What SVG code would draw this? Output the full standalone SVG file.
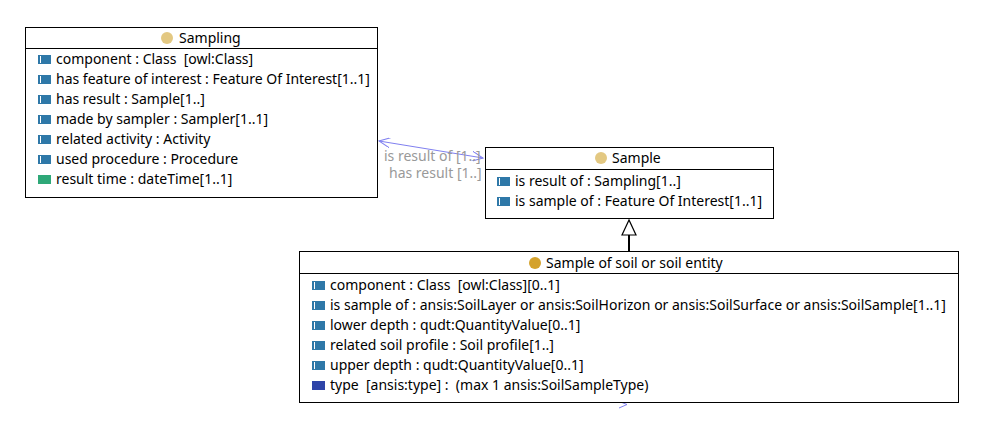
<svg xmlns="http://www.w3.org/2000/svg" width="1003" height="439" viewBox="0 0 1003 439">
<defs>
<style>
.box{fill:#fff;stroke:#000;stroke-width:1}
.t{font-family:"Noto Sans","Open Sans",sans-serif;font-size:14px;fill:#000;white-space:pre}
.lbl{font-family:"Noto Sans","Open Sans",sans-serif;font-size:14px;fill:#999}
.ic{fill:#2e78a8}
.icg{fill:#2ea878}
.icd{fill:#2e44a8}
.strip{stroke:#fff;stroke-width:1}
.assoc{fill:none;stroke:#8080f0;stroke-width:1}
</style>
<marker id="open" viewBox="0 0 12 10" refX="11" refY="5" markerWidth="12" markerHeight="10" markerUnits="userSpaceOnUse" orient="auto-start-reverse">
<path d="M0,0 L11,5 L0,10" fill="none" stroke="#8080f0" stroke-width="1"/>
</marker>
</defs>
<rect width="1003" height="439" fill="#fff"/>

<g id="connectors">
<line class="assoc" x1="379" y1="141" x2="483" y2="158" marker-start="url(#open)" marker-end="url(#open)"/>
<text class="lbl" x="384" y="161">is result of [1..]</text>
<text class="lbl" x="389" y="178">has result [1..]</text>
<line x1="629" y1="251" x2="629" y2="235" stroke="#000" stroke-width="2"/>
<polygon points="629,220 622,235 636,235" fill="#fff" stroke="#000" stroke-width="1.2"/>
<polyline class="assoc" points="618,401 627,404.5 619,408"/>
</g>

<g id="sampling">
<rect class="box" x="25.5" y="27.5" width="352" height="170"/>
<line x1="25.5" y1="48.5" x2="377.5" y2="48.5" stroke="#000"/>
<circle cx="167" cy="38" r="6" fill="#e3c882"/>
<text class="t" x="179" y="43">Sampling</text>
<g>
<rect class="ic" x="38" y="55" width="13" height="9"/><line class="strip" x1="40.5" y1="56" x2="40.5" y2="63"/>
<text class="t" x="56" y="64" xml:space="preserve">component : Class  [owl:Class]</text>
<rect class="ic" x="38" y="75" width="13" height="9"/><line class="strip" x1="40.5" y1="76" x2="40.5" y2="83"/>
<text class="t" x="56" y="84">has feature of interest : Feature Of Interest[1..1]</text>
<rect class="ic" x="38" y="95" width="13" height="9"/><line class="strip" x1="40.5" y1="96" x2="40.5" y2="103"/>
<text class="t" x="56" y="104">has result : Sample[1..]</text>
<rect class="ic" x="38" y="115" width="13" height="9"/><line class="strip" x1="40.5" y1="116" x2="40.5" y2="123"/>
<text class="t" x="56" y="124">made by sampler : Sampler[1..1]</text>
<rect class="ic" x="38" y="135" width="13" height="9"/><line class="strip" x1="40.5" y1="136" x2="40.5" y2="143"/>
<text class="t" x="56" y="144">related activity : Activity</text>
<rect class="ic" x="38" y="155" width="13" height="9"/><line class="strip" x1="40.5" y1="156" x2="40.5" y2="163"/>
<text class="t" x="56" y="164">used procedure : Procedure</text>
<rect class="icg" x="38" y="175" width="13" height="9"/>
<text class="t" x="56" y="184">result time : dateTime[1..1]</text>
</g>
</g>

<g id="sample">
<rect class="box" x="485.5" y="147.5" width="288" height="71"/>
<line x1="485.5" y1="169.5" x2="773.5" y2="169.5" stroke="#000"/>
<circle cx="601" cy="158" r="6" fill="#e3c882"/>
<text class="t" x="612" y="163">Sample</text>
<rect class="ic" x="497" y="177" width="13" height="9"/><line class="strip" x1="499.5" y1="178" x2="499.5" y2="185"/>
<text class="t" x="515" y="186">is result of : Sampling[1..]</text>
<rect class="ic" x="497" y="197" width="13" height="9"/><line class="strip" x1="499.5" y1="198" x2="499.5" y2="205"/>
<text class="t" x="515" y="206">is sample of : Feature Of Interest[1..1]</text>
</g>

<g id="soil-sample">
<rect class="box" x="299.5" y="251.5" width="659" height="151"/>
<line x1="299.5" y1="273.5" x2="958.5" y2="273.5" stroke="#000"/>
<circle cx="535" cy="263" r="6" fill="#d4a22c"/>
<text class="t" x="546" y="268">Sample of soil or soil entity</text>
<rect class="ic" x="312" y="281" width="13" height="9"/><line class="strip" x1="314.5" y1="282" x2="314.5" y2="289"/>
<text class="t" x="330" y="290" xml:space="preserve">component : Class  [owl:Class][0..1]</text>
<rect class="ic" x="312" y="301" width="13" height="9"/><line class="strip" x1="314.5" y1="302" x2="314.5" y2="309"/>
<text class="t" x="330" y="310">is sample of : ansis:SoilLayer or ansis:SoilHorizon or ansis:SoilSurface or ansis:SoilSample[1..1]</text>
<rect class="ic" x="312" y="321" width="13" height="9"/><line class="strip" x1="314.5" y1="322" x2="314.5" y2="329"/>
<text class="t" x="330" y="330">lower depth : qudt:QuantityValue[0..1]</text>
<rect class="ic" x="312" y="341" width="13" height="9"/><line class="strip" x1="314.5" y1="342" x2="314.5" y2="349"/>
<text class="t" x="330" y="350">related soil profile : Soil profile[1..]</text>
<rect class="ic" x="312" y="361" width="13" height="9"/><line class="strip" x1="314.5" y1="362" x2="314.5" y2="369"/>
<text class="t" x="330" y="370">upper depth : qudt:QuantityValue[0..1]</text>
<rect class="icd" x="312" y="381" width="13" height="9"/>
<text class="t" x="330" y="390" xml:space="preserve">type  [ansis:type] :  (max 1 ansis:SoilSampleType)</text>
</g>
</svg>
